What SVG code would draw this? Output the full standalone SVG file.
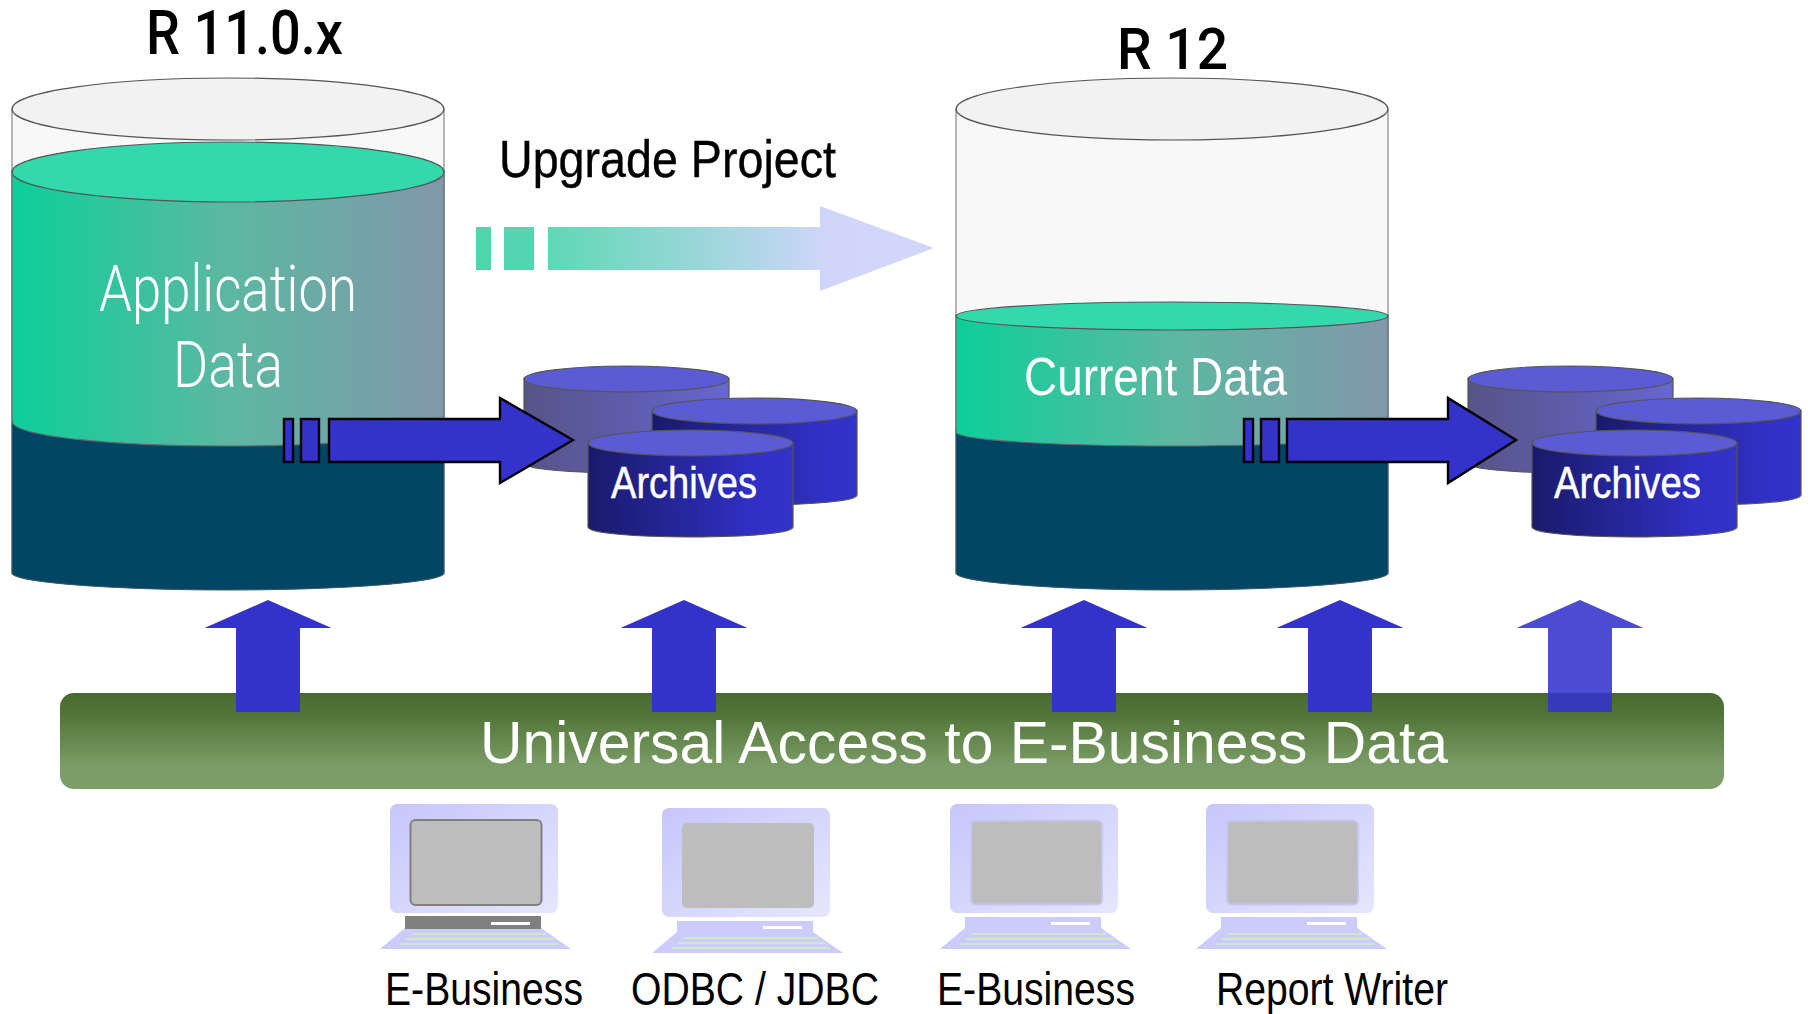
<svg xmlns="http://www.w3.org/2000/svg" xmlns:xlink="http://www.w3.org/1999/xlink" width="1808" height="1014" viewBox="0 0 1808 1014">
<style>
text{font-family:"Liberation Sans Narrow","Liberation Sans",Arial,sans-serif}
.title{font-family:Roboto,"Liberation Sans",sans-serif;font-weight:500;fill:#000}
.narrow{fill:#000}
.white{fill:#fff}
.arch{fill:#fff;stroke:#fff;stroke-width:0.5}
.thin{font-family:Roboto,"Liberation Sans",sans-serif;font-weight:300;fill:#fff}
.edge{stroke:#555;stroke-width:1.2}
.flow{fill:#3333cc;stroke:#000;stroke-width:2.4}
.screen{fill:#bdbdbd}
.kb{fill:#ccccfc}
.key{stroke:#cfe8c8;stroke-width:2;fill:none}
.slot{fill:#fff}
</style>
<defs>
<linearGradient id="gGreen" x1="0" x2="1" y1="0" y2="0"><stop offset="0" stop-color="#0ccf9a"/><stop offset="0.5" stop-color="#5cb8a2"/><stop offset="1" stop-color="#8297ab"/></linearGradient>
<linearGradient id="gUp" x1="0" x2="1" y1="0" y2="0"><stop offset="0" stop-color="#5ed8b4"/><stop offset="0.65" stop-color="#c2d6f2"/><stop offset="0.72" stop-color="#d0d6fb"/><stop offset="1" stop-color="#d2d6fb"/></linearGradient>
<linearGradient id="gBack" x1="0" x2="1" y1="0" y2="0"><stop offset="0" stop-color="#565487"/><stop offset="1" stop-color="#6666d0"/></linearGradient>
<linearGradient id="gArch" x1="0" x2="1" y1="0" y2="0"><stop offset="0" stop-color="#1a1a6a"/><stop offset="0.8" stop-color="#3030c4"/><stop offset="1" stop-color="#3333cc"/></linearGradient>
<linearGradient id="gBar" x1="0" x2="0" y1="0" y2="1"><stop offset="0" stop-color="#486a2d"/><stop offset="0.2" stop-color="#4f7336"/><stop offset="0.75" stop-color="#7a9c66"/><stop offset="1" stop-color="#7d9e69"/></linearGradient>
<linearGradient id="gMon" x1="0" x2="1" y1="0" y2="1"><stop offset="0" stop-color="#c6c6fb"/><stop offset="1" stop-color="#e6e6fd"/></linearGradient>
<g id="monitor">
<rect x="0" y="0" width="168" height="109" rx="7" fill="url(#gMon)"/>
<path class="kb" d="M15 113H151V124L181 145H-10L15 124Z"/>
<rect class="slot" x="101" y="118" width="39" height="3"/>
<path class="key" d="M22 130H156M16 135H163M10 140H168"/>
</g>
<g id="archiveBody">
<path d="M0 13V97C0 103 46 107 103 107S205 103 205 97V13Z" class="edge"/>
</g>
<g id="archiveTop"><ellipse cx="102.500" cy="13" rx="102.500" ry="13" fill="#5b5bd3" class="edge"/></g>
</defs>
<rect width="1808" height="1014" fill="#fff"/>

<g id="cyl-r11">
<path d="M12 109V573C12 582 108 589 228 589S444 582 444 573V109Z" fill="#f8f8f8" stroke="#888" stroke-width="1.2"/>
<path d="M12 421V573C12 582 108 590 228 590S444 582 444 573V421Z" fill="#034565" stroke="#3a5a66" stroke-width="1"/>
<path d="M12 171V421C12 436 108 446 228 446S444 436 444 421V171Z" fill="url(#gGreen)" stroke="#606a70" stroke-width="1.2"/>
<ellipse cx="228" cy="109" rx="216" ry="31" fill="#f2f2f2" class="edge"/>
<ellipse cx="228" cy="172" rx="216" ry="30" fill="#33d8ac" class="edge"/>
<text class="title" x="146" y="54" font-size="62" textLength="197" lengthAdjust="spacingAndGlyphs">R 11.0.x</text>
<text class="thin" x="99" y="311" font-size="64" textLength="258" lengthAdjust="spacingAndGlyphs">Application</text>
<text class="thin" x="173" y="387" font-size="64" textLength="110" lengthAdjust="spacingAndGlyphs">Data</text>
</g>

<g id="cyl-r12">
<path d="M956 109V573C956 582 1052 589 1172 589S1388 582 1388 573V109Z" fill="#f8f8f8" stroke="#888" stroke-width="1.2"/>
<path d="M956 430V573C956 582 1052 590 1172 590S1388 582 1388 573V430Z" fill="#034565" stroke="#3a5a66" stroke-width="1"/>
<path d="M956 315V432C956 440 1052 446 1172 446S1388 440 1388 432V315Z" fill="url(#gGreen)" stroke="#606a70" stroke-width="1.2"/>
<ellipse cx="1172" cy="109" rx="216" ry="31" fill="#f2f2f2" class="edge"/>
<ellipse cx="1172" cy="316" rx="216" ry="14" fill="#33d8ac" class="edge"/>
<text class="title" x="1117" y="69" font-size="58" textLength="111" lengthAdjust="spacingAndGlyphs">R 12</text>
<text class="white" x="1024" y="395" font-size="54" textLength="263" lengthAdjust="spacingAndGlyphs">Current Data</text>
</g>

<g id="archives-1">
<g transform="translate(524 366)"><use xlink:href="#archiveBody" fill="url(#gBack)"/><use xlink:href="#archiveTop"/></g>
<g transform="translate(652 398)"><use xlink:href="#archiveBody" fill="url(#gArch)"/><use xlink:href="#archiveTop"/></g>
<g transform="translate(588 430)"><use xlink:href="#archiveBody" fill="url(#gArch)"/><use xlink:href="#archiveTop"/></g>
<text class="arch" x="611" y="498" font-size="44" textLength="146" lengthAdjust="spacingAndGlyphs">Archives</text>
</g>
<g id="archives-2">
<g transform="translate(1468 366)"><use xlink:href="#archiveBody" fill="url(#gBack)"/><use xlink:href="#archiveTop"/></g>
<g transform="translate(1596 398)"><use xlink:href="#archiveBody" fill="url(#gArch)"/><use xlink:href="#archiveTop"/></g>
<g transform="translate(1532 430)"><use xlink:href="#archiveBody" fill="url(#gArch)"/><use xlink:href="#archiveTop"/></g>
<text class="arch" x="1554" y="498" font-size="44" textLength="147" lengthAdjust="spacingAndGlyphs">Archives</text>
</g>

<g id="bar">
<rect x="60" y="693" width="1664" height="96" rx="14" fill="url(#gBar)"/>
</g>

<g id="connectors">
<path fill="#3333cc" d="M268 600L331.500 628H300V712H236V628H204.500Z"/>
<path fill="#3333cc" d="M684 600L747.500 628H716V712H652V628H620.500Z"/>
<path fill="#3333cc" d="M1084 600L1147.500 628H1116V712H1052V628H1020.500Z"/>
<path fill="#3333cc" d="M1340 600L1403.500 628H1372V712H1308V628H1276.500Z"/>
<path fill="#3333cc" fill-opacity="0.88" d="M1580 600L1643.500 628H1612V712H1548V628H1516.500Z"/>
<g id="upgrade-arrow">
<rect x="476" y="227" width="15" height="43" fill="#4fd6ad"/>
<rect x="504" y="227" width="30" height="43" fill="#56d6b0"/>
<path fill="url(#gUp)" d="M548 227H820V206L934 248L820 291V270H548Z"/>
</g>
<g id="flow-1">
<rect class="flow" x="284" y="419" width="9" height="43"/>
<rect class="flow" x="301" y="419" width="18" height="43"/>
<path class="flow" d="M329 419H500V398L573 440L500 483V462H329Z"/>
</g>
<g id="flow-2">
<rect class="flow" x="1244" y="419" width="9" height="43"/>
<rect class="flow" x="1261" y="419" width="18" height="43"/>
<path class="flow" d="M1287 419H1448V398L1516 440L1448 483V462H1287Z"/>
</g>
</g>

<g id="bar-label">
<text class="white" style="font-family:'Liberation Sans',sans-serif" x="480" y="763" font-size="60" textLength="968" lengthAdjust="spacingAndGlyphs">Universal Access to E-Business Data</text>
</g>
<g id="upgrade-label"><text class="narrow" stroke="#000" stroke-width="0.4" x="499" y="177" font-size="52" textLength="337" lengthAdjust="spacingAndGlyphs">Upgrade Project</text></g>

<g id="pc-1">
<use xlink:href="#monitor" x="390" y="804"/>
<rect x="410.500" y="820" width="131" height="85" rx="5" fill="#bdbdbd" stroke="#808080" stroke-width="2"/>
<rect x="405" y="916" width="136" height="13" fill="#808080"/>
<rect class="slot" x="491" y="922" width="39" height="3"/>
<text class="narrow" x="385" y="1005" font-size="46" textLength="198" lengthAdjust="spacingAndGlyphs">E-Business</text>
</g>
<g id="pc-2">
<use xlink:href="#monitor" x="662" y="808"/>
<rect class="screen" x="682" y="823" width="132" height="85" rx="5"/>
<text class="narrow" x="631" y="1005" font-size="46" textLength="248" lengthAdjust="spacingAndGlyphs">ODBC / JDBC</text>
</g>
<g id="pc-3">
<use xlink:href="#monitor" x="950" y="804"/>
<rect class="screen" x="971" y="820.500" width="131" height="84" rx="5" stroke="#c6c6f5" stroke-width="2"/>
<text class="narrow" x="937" y="1005" font-size="46" textLength="198" lengthAdjust="spacingAndGlyphs">E-Business</text>
</g>
<g id="pc-4">
<use xlink:href="#monitor" x="1206" y="804"/>
<rect class="screen" x="1227" y="820.500" width="131" height="84" rx="5" stroke="#c6c6f5" stroke-width="2"/>
<text class="narrow" x="1216" y="1005" font-size="46" textLength="232" lengthAdjust="spacingAndGlyphs">Report Writer</text>
</g>
</svg>
